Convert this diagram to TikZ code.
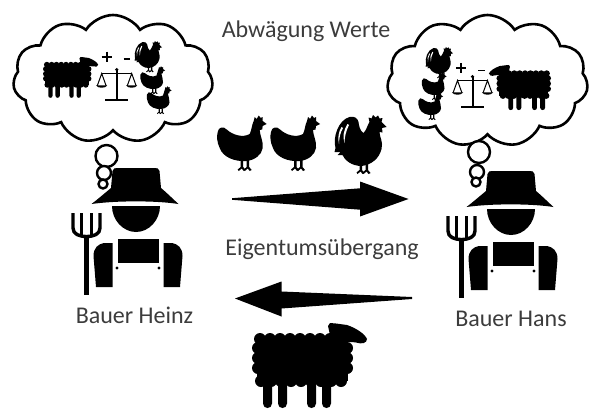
\documentclass[tikz,border=0pt]{standalone}
\usepackage{fontspec}
\setmainfont{Carlito}
\usetikzlibrary{shapes.symbols}
\definecolor{labelgray}{RGB}{60,60,60}
\tikzset{
  labeltext/.style={font=\fontsize{24}{28}\selectfont, text=labelgray, anchor=base, inner sep=0pt},
  thought/.style={cloud, cloud puffs=11, cloud puff arc=115, cloud ignores aspect,
    draw=black, line width=2.6pt, fill=white, inner sep=0pt},
  bubble/.style={circle, draw=black, line width=2.4pt, fill=white, inner sep=0pt},
  % hen, facing right, box 50 x 57
  hen/.pic={
    \fill (1,17) .. controls (1.5,12) and (7,11) .. (10,14.5)
      .. controls (16,20) and (26,23) .. (33,19)
      .. controls (35,15) and (35,10) .. (37,6)
      -- (38,2) -- (40,4) -- (42,0.5) -- (44,3) -- (46,2) -- (46,6)
      -- (50,9) -- (46,11) -- (45.5,14.5) -- (43,15)
      .. controls (43,20) and (47,27) .. (46,33)
      .. controls (45,40) and (38,45) .. (30,46)
      .. controls (18,47) and (6,42) .. (3,33)
      .. controls (0,27) and (0,21) .. (1,17) -- cycle;
    \foreach \lx in {24,30}{
      \fill (\lx,45) -- (\lx+2.5,45) -- (\lx+2.5,52) -- (\lx+5,55) -- (\lx+3,56)
        -- (\lx+1,53.5) -- (\lx-2,56) -- (\lx-3,54.5) -- (\lx,52) -- cycle;
    }
  },
  % rooster, facing right, box 53 x 60
  rooster/.pic={
    \fill (2,33) .. controls (-1,22) and (5,5) .. (16,2)
      .. controls (21,1) and (24,3) .. (25,7)
      .. controls (25.5,11) and (26.5,16) .. (30,18)
      .. controls (33,15) and (34,10) .. (36,7)
      -- (35,2.5) -- (38,3.5) -- (39.5,0) -- (42,2.5) -- (44.5,0.5) -- (46,3.5)
      -- (49,3) -- (48,7) -- (53,12) -- (48.5,13) -- (49,17.5) -- (46,17)
      .. controls (46,22) and (50,27) .. (48,34)
      .. controls (46,43) and (38,50) .. (28,51)
      .. controls (18,51) and (11,45) .. (9,40)
      -- (4,40) -- (7,37) -- (1,37) -- cycle;
    \fill[white] (8,12) .. controls (5,17) and (4,23) .. (5.5,29)
      .. controls (5.5,23) and (7,17) .. (9.5,13) -- cycle;
    \fill[white] (14,9) .. controls (10,15) and (9,22) .. (11,28)
      .. controls (11,22) and (12.5,16) .. (15.5,10) -- cycle;
    \foreach \lx in {26,32}{
      \fill (\lx,49) -- (\lx+2.5,49) -- (\lx+2.5,55) -- (\lx+5,58) -- (\lx+3,59)
        -- (\lx+1,56.5) -- (\lx-2,59) -- (\lx-3,57.5) -- (\lx,55) -- cycle;
    }
  },
  % sheep, facing right, box 115 x 85
  sheep/.pic={
    \fill (5,16) rectangle (96,58);
    \foreach \bx in {8,18,28,38,48,58,68,78}{
      \fill (\bx,16) circle (6);
    }
    \foreach \bx in {9,19,29,39,49,59,69,79,89}{
      \fill (\bx,58) circle (6);
    }
    \foreach \by in {25,35,45}{
      \fill (6,\by) circle (6);
      \fill (95,\by) circle (6);
    }
    \fill (88,20) circle (7);
    \fill (76,3) -- (78,0) -- (84,0.5) -- (95,2) .. controls (104,5) and (113,11) .. (115,16)
      .. controls (115,20) and (110,21.5) .. (104,19.5)
      .. controls (96,18) and (88,21) .. (80,21) -- cycle;
    \foreach \lx/\ly in {11/55,26/58,55/58,70/55}{
      \fill (\lx,\ly) -- (\lx,80.5) .. controls (\lx,86.5) and (\lx+9,86.5) .. (\lx+9,80.5)
        -- (\lx+9,\ly) -- cycle;
    }
  },
  % balance, origin at the top of the post
  balance/.pic={
    \fill (0,1.6) circle (1.8);
    \draw[line width=2pt] (0,2) -- (0,31);
    \draw[line width=2.4pt] (-11.5,32) -- (11.5,32);
    \draw[line width=1.8pt] (-15,5.5) -- (15,5.5);
    \foreach \s in {-1,1}{
      \draw[line width=1pt] (\s*15-4.5,18) -- (\s*15,5.5) -- (\s*15+4.5,18);
      \fill (\s*15-5.5,17.5) -- (\s*15+5.5,17.5) .. controls (\s*15+4,20.5) and (\s*15-4,20.5) .. cycle;
    }
  },
  % plus and minus signs
  plusminus/.pic={
    \draw[line width=1.8pt] (-5,0) -- (5,0) (0,-5) -- (0,5);
    \draw[line width=1.8pt] (17,2.5) -- (23.5,2.5);
  },
  % farmer with hat and pitchfork, origin at the top centre of the head
  farmer/.pic={
    \fill (-44.5,-2) .. controls (-38,-7) and (-31,-13) .. (-25,-18)
      -- (-23.5,-35) .. controls (-23,-38) and (-21,-38) .. (-18,-38)
      -- (18,-38) .. controls (21,-38) and (23,-38) .. (23.5,-35)
      -- (25,-18) .. controls (31,-13) and (37,-7) .. (42.5,-2)
      .. controls (20,-5.5) and (-20,-5.5) .. (-44.5,-2) -- cycle;
    \fill (-24,0) .. controls (-24,14) and (-13,26) .. (0,26)
      .. controls (13,26) and (24,14) .. (24,0) -- cycle;
    \fill (-23.5,37) -- (-23.5,81) -- (-40,81) -- (-42.5,50)
      .. controls (-42.5,42) and (-38,38) .. (-32,37) -- cycle;
    \fill (-18.5,33) -- (22.5,33) -- (22.5,57) -- (-18.5,57) -- cycle;
    \fill (27.5,37) -- (27.5,81) -- (44,81) -- (46.5,50)
      .. controls (46.5,42) and (42,38) .. (36,37) -- cycle;
    \fill (-19,62) circle (1.6);
    \fill (23,62) circle (1.6);
    \draw[line width=3.4pt] (-63,7) -- (-63,22) .. controls (-63,28) and (-57,30.5) .. (-49.5,30.5)
      .. controls (-42,30.5) and (-36,28) .. (-36,22) -- (-36,7);
    \draw[line width=3.4pt] (-54.5,7) -- (-54.5,30) (-44.5,7) -- (-44.5,30);
    \draw[line width=4.4pt] (-49.5,29) -- (-49.5,89);
  },
}
\begin{document}
\begin{tikzpicture}[x=1pt,y=-1pt]
\path[use as bounding box] (0,0) rectangle (596,409);

% thought clouds
\node[thought, minimum width=200pt, minimum height=128pt] (cloudHeinz) at (113,79) {};
\node[thought, minimum width=201pt, minimum height=132pt] (cloudHans) at (487.5,81) {};

% left cloud: sheep weighed against chickens
\pic[scale=0.48] at (43,57) {sheep};
\pic at (106.7,56.7) {plusminus};
\pic at (116.7,68) {balance};
\pic[scale=0.53] at (134,41) {rooster};
\pic[scale=0.5] at (140,66) {hen};
\pic[scale=0.5] at (146.5,86) {hen};

% right cloud: chickens weighed against sheep
\pic[scale=0.53] at (425,47) {rooster};
\pic[scale=0.5] at (421.5,72) {hen};
\pic[scale=0.5] at (418,92) {hen};
\pic at (461,68) {plusminus};
\pic at (472.5,75) {balance};
\pic[xscale=-0.54, yscale=0.53] at (551,65) {sheep};

% thought bubbles
\node[bubble, minimum size=22pt] (bHeinzA) at (106.5,156) {};
\node[bubble, minimum size=14pt] (bHeinzB) at (104,173) {};
\node[bubble, minimum size=9pt] (bHeinzC) at (103,184) {};
\node[bubble, minimum size=22pt] (bHansA) at (479,152) {};
\node[bubble, minimum size=14pt] (bHansB) at (477,172) {};
\node[bubble, minimum size=9pt] (bHansC) at (476,182) {};

% farmers
\pic at (136,206) {farmer};
\pic at (511,209) {farmer};

% chickens handed over
\pic at (216.7,115) {hen};
\pic at (270,115) {hen};
\pic at (333.5,115) {rooster};

% arrows
\fill (232,198.2) -- (360,188.3) -- (360,181.5) -- (408.5,199) -- (360,216.5)
  -- (360,209.7) -- (232,199.8) -- cycle;
\fill (235,298.5) -- (281.5,281.5) -- (281.5,291.5) -- (412,297) -- (412,299)
  -- (281.5,308.5) -- (281.5,316.5) -- cycle;

% sheep handed over
\pic at (252,323) {sheep};

% labels
\node[labeltext] (valuation) at (306,38) {Abwägung Werte};
\node[labeltext] (transfer) at (322,255) {Eigentumsübergang};
\node[labeltext] (heinz) at (134.5,323) {Bauer Heinz};
\node[labeltext] (hans) at (511,326.5) {Bauer Hans};
\end{tikzpicture}
\end{document}
